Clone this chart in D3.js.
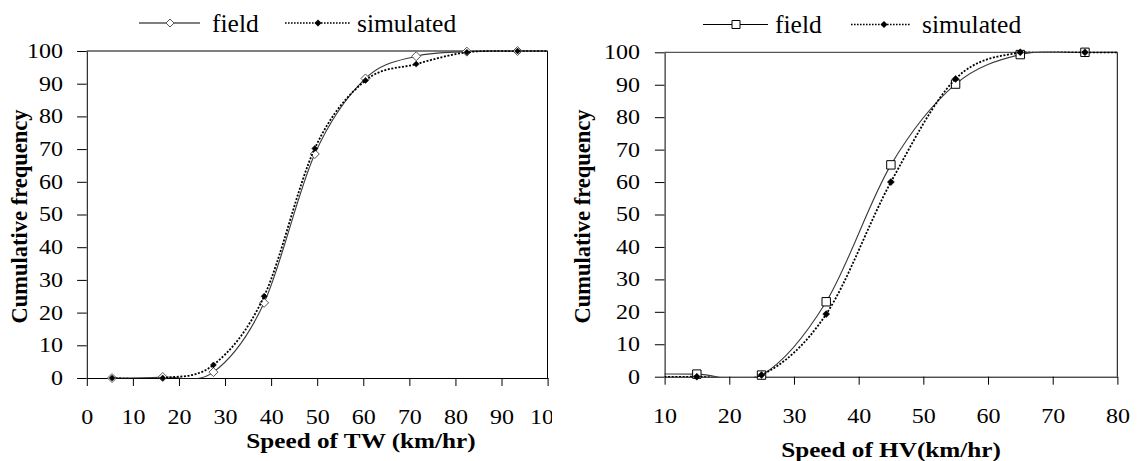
<!DOCTYPE html>
<html>
<head>
<meta charset="utf-8">
<script src="https://cdn.jsdelivr.net/npm/d3@7"></script>
<style>
  html, body { margin: 0; padding: 0; background: #fff; }
  svg { display: block; }
  text { font-family: "Liberation Serif", "Times New Roman", serif; fill: #000; }
</style>
</head>
<body>
<div id="chart"></div>
<script>
// two-wheeler (TW) speed classes and cumulative frequencies
const twSpeed = [5.5, 16.5, 27.5, 38.5, 49.5, 60.5, 71.5, 82.5, 93.5, 104.5];
const twField = [0, 0.3, 1.8, 23, 68.5, 91.6, 98.4, 99.8, 100, 100];
const twSim = [0, 0, 4, 25, 70.2, 91, 96, 99.6, 100, 100];

// heavy vehicle (HV) speed classes and cumulative frequencies
const hvSpeed = [5, 15, 25, 35, 45, 55, 65, 75, 85];
const hvField = [0.8, 0.8, 0.5, 23.1, 65.3, 90.2, 99.3, 100, 100];
const hvSim = [0, 0, 0.5, 19.3, 60, 91.8, 100, 100, 100];

const yTicks = [0, 10, 20, 30, 40, 50, 60, 70, 80, 90, 100];
const twTicks = [0, 10, 20, 30, 40, 50, 60, 70, 80, 90, 100];
const hvTicks = [10, 20, 30, 40, 50, 60, 70, 80];
const seriesNames = ['field', 'simulated'];

const W = 1137;
const H = 461;
const SX = 1.2; // the figure is stretched horizontally
const FONT = '"Liberation Serif", "Times New Roman", serif';

const svg = d3.select('#chart')
  .append('svg')
  .attr('width', W)
  .attr('height', H)
  .attr('viewBox', `0 0 ${W / SX} ${H}`)
  .attr('preserveAspectRatio', 'none');

const defs = svg.append('defs');

// marker shapes, r in screen pixels
const diamond = (cx, cy, r) => {
  const rx = r / SX;
  return `M${cx},${cy - r}L${cx + rx},${cy}L${cx},${cy + r}L${cx - rx},${cy}Z`;
};
const square = (cx, cy, r) => {
  const rx = r / SX;
  return `M${cx - rx},${cy - r}h${2 * rx}v${2 * r}h${-2 * rx}Z`;
};

function drawPanel(p) {
  const g = svg.append('g');
  const x = d3.scaleLinear().domain(p.domain).range([p.left / SX, p.right / SX]);
  const y = d3.scaleLinear().domain([0, 100]).range([p.bottom, p.top]);

  // frame top and right
  g.append('line')
    .attr('x1', x(p.domain[0])).attr('x2', x(p.domain[1]))
    .attr('y1', y(100)).attr('y2', y(100))
    .attr('stroke', '#555').attr('stroke-width', 1.3)
    .attr('vector-effect', 'non-scaling-stroke');
  g.append('line')
    .attr('x1', x(p.domain[1])).attr('x2', x(p.domain[1]))
    .attr('y1', y(100)).attr('y2', y(0))
    .attr('stroke', '#000').attr('stroke-width', 1)
    .attr('vector-effect', 'non-scaling-stroke');

  // x axis
  const clipId = p.id + '-xclip';
  defs.append('clipPath').attr('id', clipId)
    .append('rect')
    .attr('x', -200).attr('y', -20)
    .attr('width', 200 + p.xLabelClip / SX).attr('height', 100);

  const gx = g.append('g')
    .attr('transform', `translate(0,${y(0)})`)
    .attr('clip-path', `url(#${clipId})`)
    .call(d3.axisBottom(x).tickValues(p.xTicks).tickSize(8).tickSizeOuter(0)
      .tickPadding(24).tickFormat(d3.format('d')));
  gx.attr('font-family', FONT).attr('font-size', 20);

  // y axis
  const gy = g.append('g')
    .attr('transform', `translate(${x(p.domain[0])},0)`)
    .call(d3.axisLeft(y).tickValues(yTicks).tickSize(8).tickSizeOuter(0)
      .tickPadding(p.yPad).tickFormat(d3.format('d')));
  gy.attr('font-family', FONT).attr('font-size', 20);

  [gx, gy].forEach(a => {
    a.selectAll('path, line').attr('stroke', '#000').attr('vector-effect', 'non-scaling-stroke');
    a.selectAll('text').attr('fill', '#000');
  });

  // axis titles
  g.append('text')
    .attr('x', p.xTitleX / SX).attr('y', p.xTitleY)
    .attr('text-anchor', 'middle')
    .attr('font-size', 21).attr('font-weight', 'bold')
    .text(p.xTitle);

  g.append('g').attr('transform', `scale(${1 / SX},1)`)
    .append('text')
    .attr('transform', `translate(${p.yTitleX},216.5) rotate(-90)`)
    .attr('text-anchor', 'middle')
    .attr('font-size', 22.5).attr('font-weight', 'bold')
    .text('Cumulative frequency');

  // series
  const lineClip = p.id + '-lclip';
  defs.append('clipPath').attr('id', lineClip)
    .append('rect')
    .attr('x', x(p.domain[0])).attr('y', y(100) - 0.8)
    .attr('width', x(p.domain[1]) - x(p.domain[0]))
    .attr('height', y(0) - y(100) + 1.3);

  const line = d3.line()
    .x(d => x(d[0]))
    .y(d => y(d[1]))
    .curve(d3.curveCatmullRom.alpha(0));

  const inside = v => v >= p.domain[0] && v <= p.domain[1];
  const fieldPts = p.speed.map((s, i) => [s, p.field[i]]);
  const simPts = p.speed.map((s, i) => [s, p.sim[i]]);

  g.append('path')
    .attr('d', line(fieldPts))
    .attr('clip-path', `url(#${lineClip})`)
    .attr('fill', 'none').attr('stroke', '#3a3a3a').attr('stroke-width', 1.1)
    .attr('vector-effect', 'non-scaling-stroke');

  g.append('g').selectAll('path')
    .data(fieldPts.filter(d => inside(d[0])))
    .enter()
    .append('path')
    .attr('d', d => p.fieldShape(x(d[0]), y(d[1]), p.fieldR))
    .attr('fill', '#fff').attr('stroke', p.fieldStroke).attr('stroke-width', 1)
    .attr('vector-effect', 'non-scaling-stroke');

  g.append('path')
    .attr('d', line(simPts))
    .attr('clip-path', `url(#${lineClip})`)
    .attr('fill', 'none').attr('stroke', '#000').attr('stroke-width', 1.8)
    .attr('stroke-dasharray', '2,1.6')
    .attr('vector-effect', 'non-scaling-stroke');

  g.append('g').selectAll('path')
    .data(simPts.filter(d => inside(d[0])))
    .enter()
    .append('path')
    .attr('d', d => diamond(x(d[0]), y(d[1]), p.simR))
    .attr('fill', '#000').attr('stroke', '#000').attr('stroke-width', 0.5)
    .attr('vector-effect', 'non-scaling-stroke');

  // legend, in screen pixels
  const lg = svg.append('g').attr('transform', `scale(${1 / SX},1)`);
  const L = p.legend;
  lg.append('line')
    .attr('x1', L.a0).attr('x2', L.a1).attr('y1', L.y).attr('y2', L.y)
    .attr('stroke', '#000').attr('stroke-width', 1.2);
  const shape = p.fieldShape === square
    ? `M${L.am - 4},${L.y - 4}h8v8h-8Z`
    : `M${L.am},${L.y - 4}L${L.am + 4},${L.y}L${L.am},${L.y + 4}L${L.am - 4},${L.y}Z`;
  lg.append('path').attr('d', shape)
    .attr('fill', '#fff').attr('stroke', p.fieldStroke).attr('stroke-width', 1);
  lg.append('text').attr('x', L.at).attr('y', L.ty)
    .attr('font-size', 25.5).text(seriesNames[0]);

  lg.append('line')
    .attr('x1', L.b0).attr('x2', L.b1).attr('y1', L.y).attr('y2', L.y)
    .attr('stroke', '#000').attr('stroke-width', 1.4).attr('stroke-dasharray', '1.6,1.4');
  lg.append('path')
    .attr('d', `M${L.bm},${L.y - 3.5}L${L.bm + 3.5},${L.y}L${L.bm},${L.y + 3.5}L${L.bm - 3.5},${L.y}Z`)
    .attr('fill', '#000');
  lg.append('text').attr('x', L.bt).attr('y', L.ty)
    .attr('font-size', 25.5).text(seriesNames[1]);
}

drawPanel({
  id: 'tw',
  domain: [0, 100],
  left: 86.7, right: 547.5, top: 51, bottom: 378,
  xTicks: twTicks,
  xLabelClip: 552,
  yPad: 11.75,
  speed: twSpeed, field: twField, sim: twSim,
  fieldShape: diamond, fieldR: 4.5, fieldStroke: '#555', simR: 3,
  xTitle: 'Speed of TW (km/hr)', xTitleX: 361, xTitleY: 448,
  yTitleX: 27,
  legend: { y: 23, ty: 31.5, a0: 139, a1: 200, am: 170, at: 212, b0: 285, b1: 350, bm: 318, bt: 357 }
});

drawPanel({
  id: 'hv',
  domain: [10, 80],
  left: 664.5, right: 1117.3, top: 52.3, bottom: 376.7,
  xTicks: hvTicks,
  xLabelClip: 1137,
  yPad: 12.4,
  speed: hvSpeed, field: hvField, sim: hvSim,
  fieldShape: square, fieldR: 4.2, fieldStroke: '#000', simR: 3.5,
  xTitle: 'Speed of HV(km/hr)', xTitleX: 891, xTitleY: 457,
  yTitleX: 590,
  legend: { y: 24.5, ty: 33, a0: 703, a1: 768, am: 736, at: 775, b0: 851, b1: 911, bm: 884, bt: 922 }
});
</script>
</body>
</html>
